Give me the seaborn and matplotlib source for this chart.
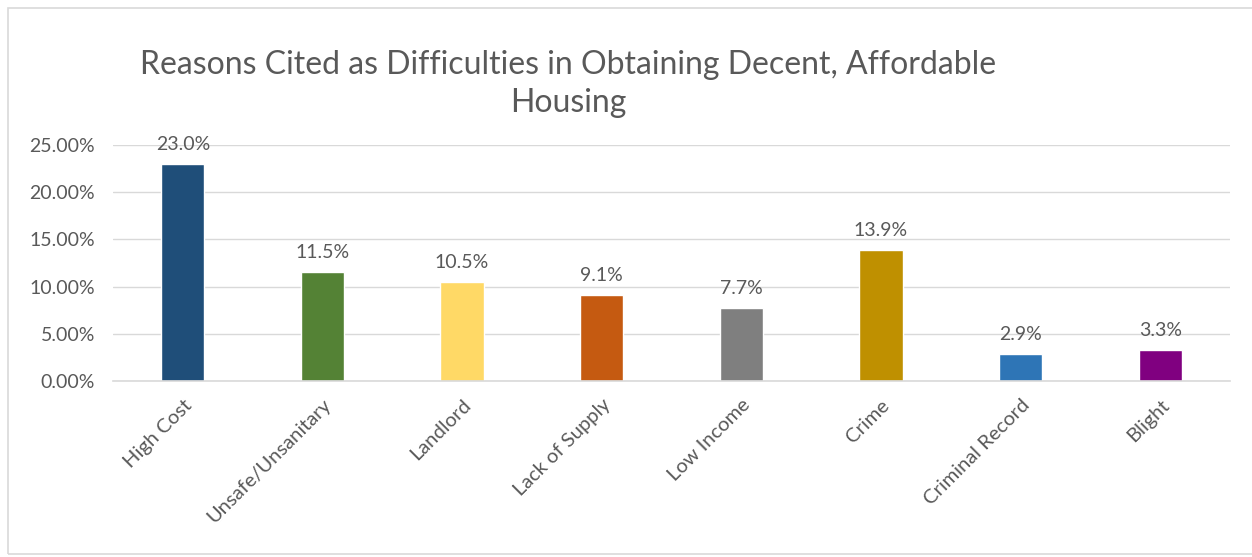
import matplotlib
matplotlib.use("Agg")
import matplotlib.pyplot as plt
import seaborn as sns
import pandas as pd
from matplotlib.ticker import PercentFormatter
from matplotlib.patches import Rectangle

reasons = ["High Cost", "Unsafe/Unsanitary", "Landlord", "Lack of Supply",
           "Low Income", "Crime", "Criminal Record", "Blight"]
shares = [23.0, 11.5, 10.5, 9.1, 7.7, 13.9, 2.9, 3.3]
bar_colors = ["#1F4E79", "#548235", "#FFD966", "#C55A11",
              "#7F7F7F", "#BF9000", "#2E75B6", "#800080"]
yticks = [0, 5, 10, 15, 20, 25]

df = pd.DataFrame({"reason": reasons, "share": [s / 100 for s in shares]})

sns.set_theme(style="white")
plt.rcParams["font.family"] = ["Lato", "DejaVu Sans"]
txt = "#595959"

fig = plt.figure(figsize=(12.52, 5.57), dpi=100)
# chart border
fig.patches.append(Rectangle((8 / 1252, 3 / 557), 1.0, 546 / 557, transform=fig.transFigure,
                             fill=False, edgecolor="#D9D9D9", linewidth=1.2))

ax = fig.add_axes([113 / 1252, 1 - 381 / 557, 1117 / 1252, 236 / 557])
sns.barplot(data=df, x="reason", y="share", hue="reason", palette=bar_colors,
            legend=False, width=0.31, ax=ax, saturation=1)

ax.set_ylim(0, 0.25)
ax.set_yticks([t / 100 for t in yticks])
ax.yaxis.set_major_formatter(PercentFormatter(1.0, decimals=2))
ax.grid(axis="y", color="#D9D9D9", linewidth=1)
ax.set_axisbelow(True)
for s in ["top", "right", "left"]:
    ax.spines[s].set_visible(False)
ax.spines["bottom"].set_color("#D9D9D9")
ax.spines["bottom"].set_linewidth(1.2)
ax.set_xlabel("")
ax.set_ylabel("")
ax.tick_params(axis="y", length=0, pad=13, labelsize=14, labelcolor=txt)
ax.tick_params(axis="x", length=0, pad=11, labelsize=14.5, labelcolor=txt)
plt.setp(ax.get_xticklabels(), rotation=45, ha="right", rotation_mode="anchor")

for i, v in enumerate(shares):
    ax.annotate(f"{v:.1f}%", (i, v / 100), xytext=(0, 8), textcoords="offset points",
                ha="center", va="bottom", fontsize=14, color=txt)

fig.text(568 / 1252, 1 - 84 / 557,
         "Reasons Cited as Difficulties in Obtaining Decent, Affordable\nHousing",
         ha="center", va="center", fontsize=23, color=txt, linespacing=1.3)

fig.savefig("out.png", dpi=100, facecolor="white")
